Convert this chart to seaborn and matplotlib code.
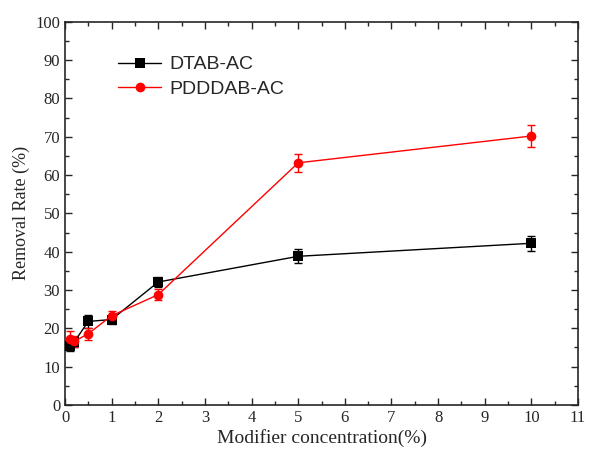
import numpy as np
import pandas as pd
import seaborn as sns
import matplotlib.pyplot as plt
from matplotlib.ticker import MultipleLocator

# dati
conc = [0.1, 0.2, 0.5, 1, 2, 5, 10]
dtab = [15.3, 16.5, 21.8, 22.3, 32.1, 38.8, 42.2]
dtab_err = [1.2, 1.3, 1.8, 1.2, 1.4, 1.8, 2.0]
pdddab = [17.3, 16.6, 18.6, 23.3, 28.8, 63.2, 70.2]
pdddab_err = [2.0, 1.5, 1.6, 1.2, 1.5, 2.4, 2.8]

df = pd.DataFrame({
    "conc": conc * 2,
    "rate": dtab + pdddab,
    "serie": ["DTAB-AC"] * len(conc) + ["PDDDAB-AC"] * len(conc),
})

sns.set_style("ticks")
plt.rcParams["font.family"] = ["Liberation Serif", "DejaVu Serif"]

fig = plt.figure(figsize=(5.91, 4.55), dpi=100)
ax = fig.add_axes([0.11, 0.11, 0.868, 0.842])

# barre di errore
ax.errorbar(conc, dtab, yerr=dtab_err, fmt="none", ecolor="black",
            elinewidth=1, capsize=3, capthick=1, zorder=2)
ax.errorbar(conc, pdddab, yerr=pdddab_err, fmt="none", ecolor="red",
            elinewidth=1, capsize=3, capthick=1, zorder=2)

sns.lineplot(data=df, x="conc", y="rate", hue="serie", style="serie",
             palette={"DTAB-AC": "black", "PDDDAB-AC": "red"},
             markers={"DTAB-AC": "s", "PDDDAB-AC": "o"}, dashes=False,
             markersize=7, markeredgewidth=0, linewidth=1, ax=ax, zorder=3)

ax.set_xlim(0, 11)
ax.set_ylim(0, 100)
ax.xaxis.set_major_locator(MultipleLocator(1))
ax.xaxis.set_minor_locator(MultipleLocator(0.5))
ax.yaxis.set_major_locator(MultipleLocator(10))
ax.yaxis.set_minor_locator(MultipleLocator(5))
ax.tick_params(which="both", direction="in", top=True, right=True,
               labeltop=False, labelright=False, labelsize=12, width=1)
ax.tick_params(which="major", length=5)
ax.tick_params(which="minor", length=3)
for s in ax.spines.values():
    s.set_linewidth(1.2)

ax.set_xlabel("Modifier concentration(%)", fontsize=14, labelpad=2)
ax.set_ylabel("Removal Rate (%)", fontsize=13, labelpad=4)

leg = ax.legend(loc="upper left", bbox_to_anchor=(0.07, 0.957), frameon=False,
                handlelength=2.2, handletextpad=0.4, labelspacing=0.35,
                prop={"family": ["Liberation Sans", "DejaVu Sans"], "size": 14})
for h in leg.legend_handles:
    h.set_markersize(7)

fig.savefig("out.png", dpi=100)
